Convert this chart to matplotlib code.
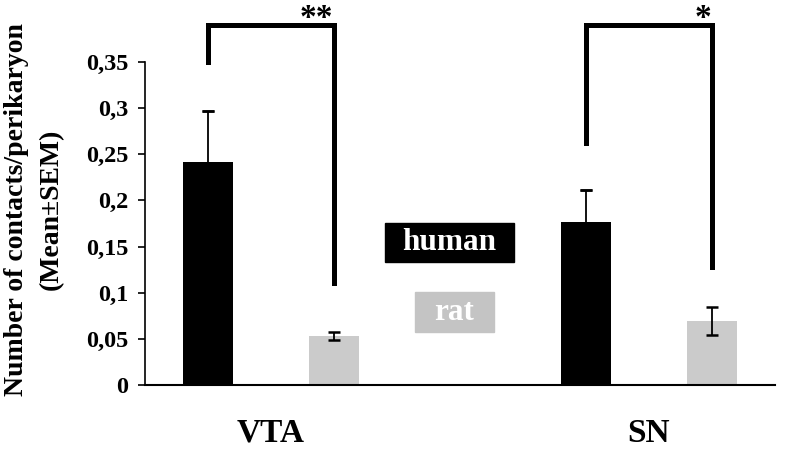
import matplotlib
matplotlib.use("Agg")
import matplotlib.pyplot as plt
from matplotlib.patches import Rectangle
import numpy as np

plt.rcParams['font.family'] = ['Liberation Serif', 'DejaVu Serif']
plt.rcParams['font.weight'] = 'bold'

regions = ["VTA", "SN"]
species = ["human", "rat"]
human_mean = [0.242, 0.177]
human_sem = [0.055, 0.034]
rat_mean = [0.053, 0.069]
rat_sem = [0.0045, 0.015]
sig_labels = ["**", "*"]
yticks = [0, 0.05, 0.1, 0.15, 0.2, 0.25, 0.3, 0.35]
ytick_labels = ["0", "0,05", "0,1", "0,15", "0,2", "0,25", "0,3", "0,35"]

human_color = "#000000"
rat_color = "#cbcbcb"
rat_box_color = "#c4c4c4"

fig = plt.figure(figsize=(7.88, 4.51), dpi=100)
ax = fig.add_axes([0.184, 0.1463, 0.7995, 0.7162])

centers = np.array([0.5, 3.5])
hx = centers - 0.5
rx = centers + 0.5
w = 0.4

ax.bar(hx, human_mean, width=w, color=human_color, zorder=2)
ax.bar(rx, rat_mean, width=w, color=rat_color, zorder=2)
ax.errorbar(hx, np.array(human_mean) + np.array(human_sem) / 2,
            yerr=np.array(human_sem) / 2, fmt='none', ecolor='black',
            elinewidth=1.3, capsize=0, zorder=3)
ax.errorbar(hx, np.array(human_mean) + np.array(human_sem), yerr=0, fmt='none',
            ecolor='black', elinewidth=0, capsize=4, capthick=1.8, zorder=3)
ax.errorbar(rx, rat_mean, yerr=rat_sem, fmt='none',
            ecolor='black', elinewidth=1.3, capsize=4, capthick=1.8, zorder=3)

ax.set_xlim(-0.5, 4.5)
ax.set_ylim(0, 0.35)
ax.set_yticks(yticks)
ax.set_yticklabels(ytick_labels, fontsize=17.5, fontweight='bold')
ax.tick_params(axis='y', direction='out', length=5, width=1.2, pad=7)
ax.set_xticks([])
for s in ['top', 'right']:
    ax.spines[s].set_visible(False)
ax.spines['left'].set_linewidth(1.2)
ax.spines['bottom'].set_linewidth(1.5)

# category labels
for c, lab in zip(centers, regions):
    ax.text(c, -0.052, lab, ha='center', va='center', fontsize=24,
            fontweight='bold', clip_on=False)

# y label
fig.text(0.021, 0.535, "Number of contacts/perikaryon", rotation=90,
         ha='center', va='center', fontsize=20, fontweight='bold')
fig.text(0.065, 0.535, "(Mean\u00b1SEM)", rotation=90,
         ha='center', va='center', fontsize=20, fontweight='bold')

# significance brackets
bracket_top = 0.390
left_bottom = [0.350, 0.262]
right_bottom = [0.1105, 0.128]
star_offsets = [-0.14, -0.07]
for i in range(2):
    ax.plot([hx[i], hx[i], rx[i], rx[i]],
            [left_bottom[i], bracket_top, bracket_top, right_bottom[i]],
            color='black', lw=3.6, solid_joinstyle='miter', clip_on=False,
            zorder=4)
    ax.text(rx[i] + star_offsets[i], bracket_top - 0.010, sig_labels[i],
            ha='center', va='bottom', fontsize=24, fontweight='bold',
            clip_on=False)

# legend-like boxes
ax.add_patch(Rectangle((1.401, 0.1333), 1.024, 0.0422, color=human_color,
                       clip_on=False, zorder=2))
ax.text(1.913, 0.1544, species[0], ha='center', va='center', color='white',
        fontsize=22.5, fontweight='bold')
ax.add_patch(Rectangle((1.639, 0.0574), 0.627, 0.0434, color=rat_box_color,
                       clip_on=False, zorder=2))
ax.text(1.952, 0.0791, species[1], ha='center', va='center', color='white',
        fontsize=22.5, fontweight='bold')

fig.savefig("out.png", dpi=100)
